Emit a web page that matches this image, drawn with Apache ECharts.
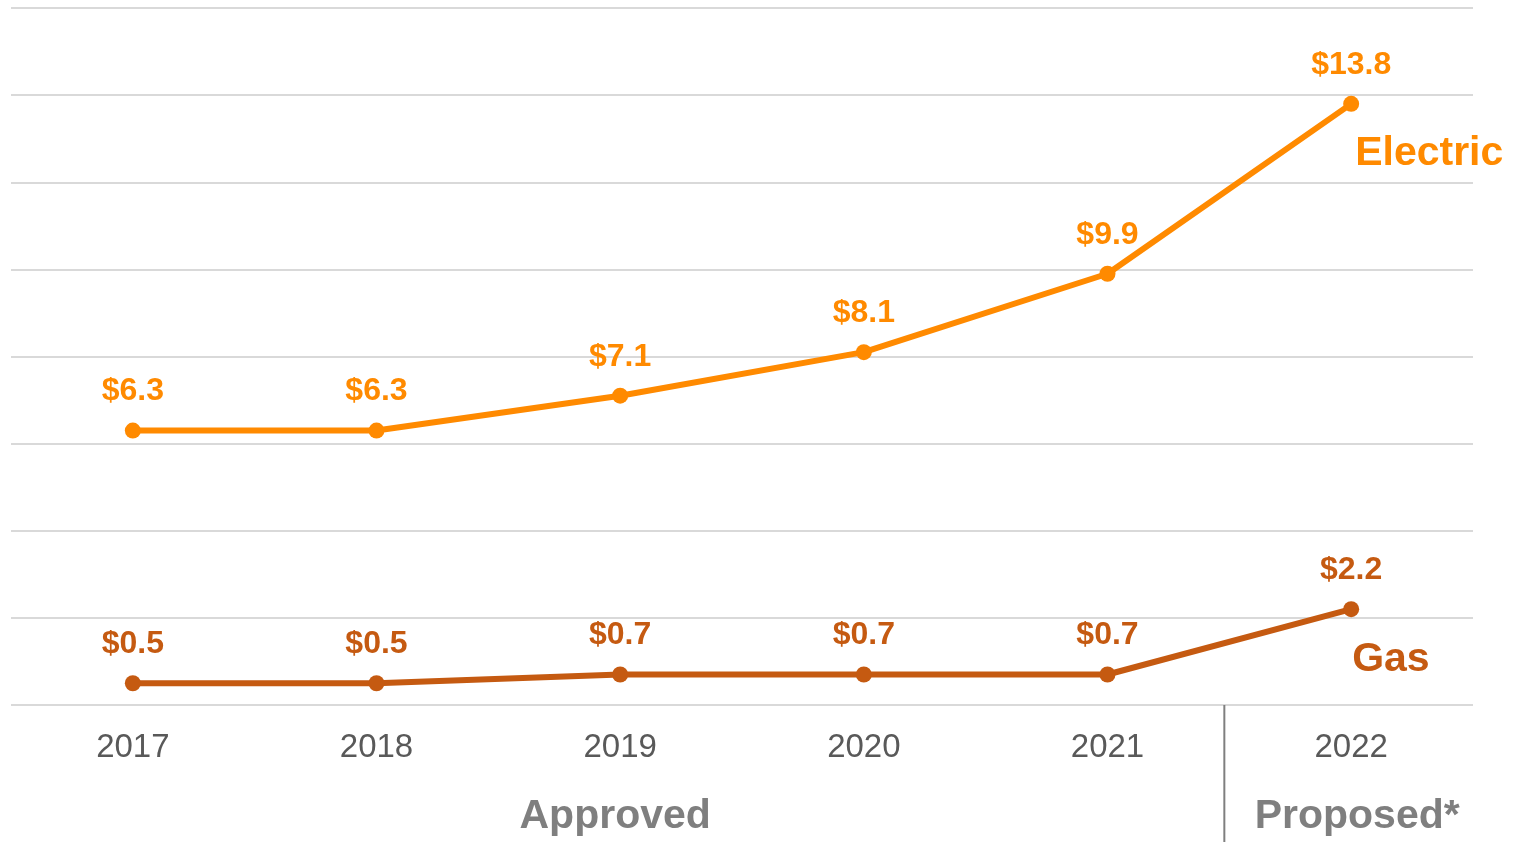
<!DOCTYPE html>
<html>
<head>
<meta charset="utf-8">
<script src="https://cdn.jsdelivr.net/npm/echarts@6/dist/echarts.min.js"></script>
<style>
html,body{margin:0;padding:0;background:#fff;}
#chart{width:1522px;height:842px;}
</style>
</head>
<body>
<div id="chart"></div>
<script>
const years = ['2017', '2018', '2019', '2020', '2021', '2022'];
const electric = [6.3, 6.3, 7.1, 8.1, 9.9, 13.8];
const gas = [0.5, 0.5, 0.7, 0.7, 0.7, 2.2];
const seriesNames = ['Electric', 'Gas'];
const phaseLabels = ['Approved', 'Proposed*'];

const FONT = '"Liberation Sans", Arial, sans-serif';
const ELEC = '#FF8A00';
const GAS = '#C55A11';

const chart = echarts.init(document.getElementById('chart'), null, {renderer: 'canvas'});

function lineSeries(name, data, color) {
  return {
    name: name,
    type: 'line',
    data: data,
    symbol: 'circle',
    symbolSize: 16,
    lineStyle: {color: color, width: 6},
    itemStyle: {color: color},
    label: {
      show: true,
      position: 'top',
      distance: 15,
      color: color,
      fontFamily: FONT,
      fontWeight: 'bold',
      fontSize: 32,
      formatter: p => '$' + p.value.toFixed(1)
    },
    animation: false
  };
}

chart.setOption({
  animation: false,
  grid: {left: 11, right: 49, top: 8, bottom: 137, containLabel: false},
  xAxis: {
    type: 'category',
    data: years,
    boundaryGap: true,
    axisLine: {show: false},
    axisTick: {show: false},
    axisLabel: {
      color: '#595959',
      fontFamily: FONT,
      fontSize: 33,
      margin: 26
    }
  },
  yAxis: {
    type: 'value',
    min: 0,
    max: 16,
    interval: 2,
    axisLine: {show: false},
    axisTick: {show: false},
    axisLabel: {show: false},
    splitLine: {lineStyle: {color: '#D9D9D9', width: 2}}
  },
  series: [
    lineSeries(seriesNames[0], electric, ELEC),
    lineSeries(seriesNames[1], gas, GAS)
  ]
});

function place() {
  const last = years.length - 1;
  const pE = chart.convertToPixel({gridIndex: 0}, [last, electric[last]]);
  const pG = chart.convertToPixel({gridIndex: 0}, [last, gas[last]]);
  const x4 = chart.convertToPixel({xAxisIndex: 0}, years[last - 1]);
  const x5 = chart.convertToPixel({xAxisIndex: 0}, years[last]);
  const x0 = chart.convertToPixel({xAxisIndex: 0}, years[0]);
  const sepX = (x4 + x5) / 2 - 5;
  const yBase = chart.convertToPixel({yAxisIndex: 0}, 0);
  const H = chart.getHeight();
  chart.setOption({
    graphic: [
      {type: 'line', shape: {x1: sepX, y1: yBase, x2: sepX, y2: H}, style: {stroke: '#7F7F7F', lineWidth: 2}},
      {type: 'text', x: pE[0] + 4, y: pE[1] + 50, style: {text: seriesNames[0], fill: ELEC, font: 'bold 41px ' + FONT, textAlign: 'left', textVerticalAlign: 'middle'}},
      {type: 'text', x: pG[0] + 1, y: pG[1] + 51, style: {text: seriesNames[1], fill: GAS, font: 'bold 41px ' + FONT, textAlign: 'left', textVerticalAlign: 'middle'}},
      {type: 'text', x: (x0 + x4) / 2 - 5, y: yBase + 112, style: {text: phaseLabels[0], fill: '#7F7F7F', font: 'bold 41px ' + FONT, textAlign: 'center', textVerticalAlign: 'middle'}},
      {type: 'text', x: x5 + 6, y: yBase + 112, style: {text: phaseLabels[1], fill: '#7F7F7F', font: 'bold 41px ' + FONT, textAlign: 'center', textVerticalAlign: 'middle'}}
    ]
  });
}
place();
</script>
</body>
</html>
